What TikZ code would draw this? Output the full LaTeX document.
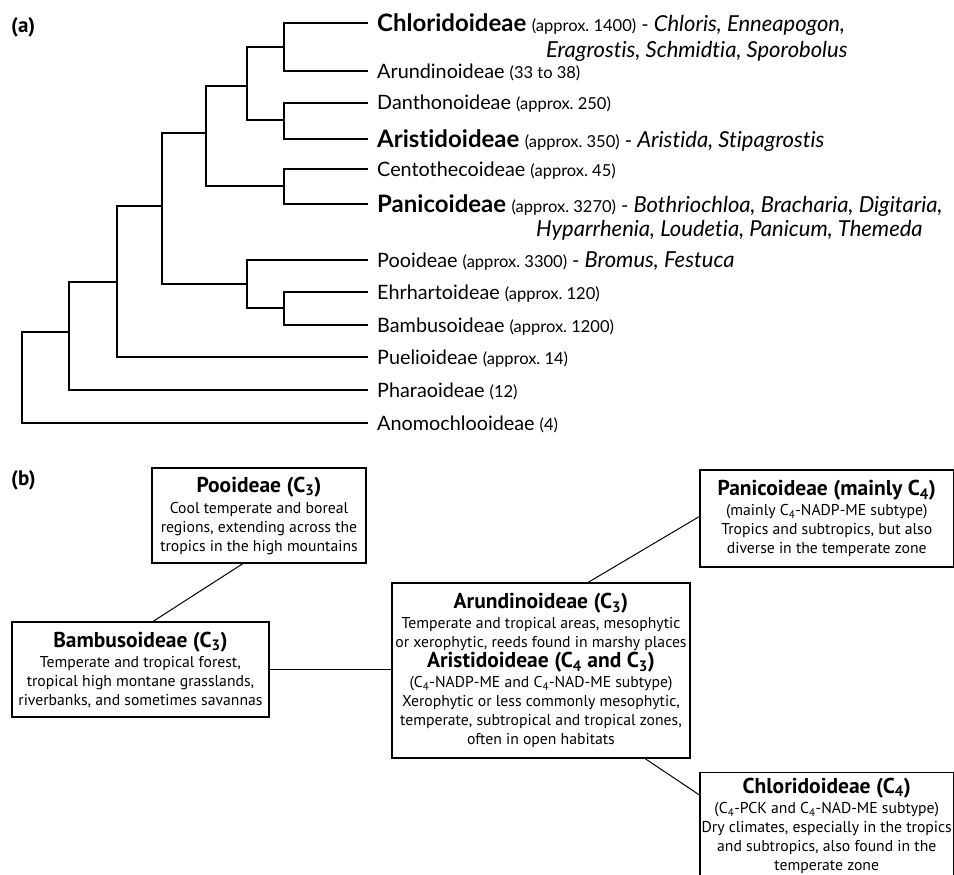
\documentclass[tikz,border=0pt]{standalone}
\usepackage{fontspec}
\setmainfont{PT Sans}
\newfontfamily\treefont[Ligatures=NoCommon]{Lato}
\usetikzlibrary{calc}
\newcommand\myleaf{\treefont\fontsize{19.8}{22}\selectfont}
\newcommand\myboldleaf{\treefont\fontsize{24}{26}\selectfont\bfseries}
\newcommand\mypar{\treefont\fontsize{16.5}{18}\selectfont}
\newcommand\myital{\treefont\fontsize{22}{24}\selectfont\itshape}
\newcommand\mytitle{\fontsize{21.5}{23}\selectfont\bfseries}
\newcommand\mybody{\fontsize{15.7}{19}\selectfont}
\begin{document}
\frenchspacing
\begin{tikzpicture}[x=1pt,y=-1pt,
  tree/.style={line width=1.4pt},
  leaf/.style={inner sep=0pt, anchor=base west, font=\myleaf},
  panel/.style={inner sep=0pt, anchor=base west, font=\fontsize{21}{23}\selectfont\bfseries},
  box/.style={draw, line width=1.1pt, align=center, font=\mybody, inner sep=0pt},
  link/.style={line width=1pt}]
\useasboundingbox (0,0) rectangle (954,875);
\clip (0,0) rectangle (954,875);

% ---------- (a) tree ----------
\node[panel] (pa) at (11,33) {(a)};

\coordinate (eChl) at (368,23);
\coordinate (eAru) at (368,71);
\coordinate (eDan) at (368,103);
\coordinate (eAri) at (368,139);
\coordinate (eCen) at (368,169);
\coordinate (ePan) at (368,204);
\coordinate (ePoo) at (368,260);
\coordinate (eEhr) at (368,292);
\coordinate (eBam) at (368,325);
\coordinate (ePue) at (368,357);
\coordinate (ePha) at (368,390);
\coordinate (eAno) at (368,423);

\coordinate (n1) at (284,47);
\coordinate (n2) at (284,120);
\coordinate (n3) at (247,86);
\coordinate (n4) at (284,186);
\coordinate (n5) at (206,133);
\coordinate (n6) at (284,308);
\coordinate (n7) at (247,284);
\coordinate (n8) at (162,206);
\coordinate (n9) at (117,282);
\coordinate (n10) at (69,332);
\coordinate (root) at (22,377.5);

\draw[tree] (n1) |- (eChl);  \draw[tree] (n1) |- (eAru);
\draw[tree] (n2) |- (eDan);  \draw[tree] (n2) |- (eAri);
\draw[tree] (n3) |- (n1);    \draw[tree] (n3) |- (n2);
\draw[tree] (n4) |- (eCen);  \draw[tree] (n4) |- (ePan);
\draw[tree] (n5) |- (n3);    \draw[tree] (n5) |- (n4);
\draw[tree] (n6) |- (eEhr);  \draw[tree] (n6) |- (eBam);
\draw[tree] (n7) |- (ePoo);  \draw[tree] (n7) |- (n6);
\draw[tree] (n8) |- (n5);    \draw[tree] (n8) |- (n7);
\draw[tree] (n9) |- (n8);    \draw[tree] (n9) |- (ePue);
\draw[tree] (n10) |- (n9);   \draw[tree] (n10) |- (ePha);
\draw[tree] (root) |- (n10); \draw[tree] (root) |- (eAno);

\node[leaf, font=\myboldleaf] (tChl) at (377,31.5) {Chloridoideae};
\node[leaf] (tChlR) at (tChl.base east) {\ {\mypar(approx. 1400)} - {\myital Chloris, Enneapogon,}};
\node[leaf] (tChl2) at (546,57.5) {\myital Eragrostis, Schmidtia, Sporobolus};
\node[leaf] (tAru) at (377,78) {Arundinoideae {\mypar(33 to 38)}};
\node[leaf] (tDan) at (377,110) {Danthonoideae {\mypar(approx. 250)}};
\node[leaf, font=\myboldleaf] (tAri) at (377,147) {Aristidoideae};
\node[leaf] (tAriR) at (tAri.base east) {\ {\mypar(approx. 350)} - {\myital Aristida, Stipagrostis}};
\node[leaf] (tCen) at (377,176) {Centothecoideae {\mypar(approx. 45)}};
\node[leaf, font=\myboldleaf] (tPan) at (377,212) {Panicoideae};
\node[leaf] (tPanR) at (tPan.base east) {\ {\mypar(approx. 3270)} - {\myital Bothriochloa, Bracharia, Digitaria,}};
\node[leaf] (tPan2) at (536,236) {\myital Hyparrhenia, Loudetia, Panicum, Themeda};
\node[leaf] (tPoo) at (377,267) {Pooideae {\mypar(approx. 3300)} - {\myital Bromus, Festuca}};
\node[leaf] (tEhr) at (377,299) {Ehrhartoideae {\mypar(approx. 120)}};
\node[leaf] (tBam) at (377,332) {Bambusoideae {\mypar(approx. 1200)}};
\node[leaf] (tPue) at (377,364) {Puelioideae {\mypar(approx. 14)}};
\node[leaf] (tPha) at (377,397) {Pharaoideae {\mypar(12)}};
\node[leaf] (tAno) at (377,430) {Anomochlooideae {\mypar(4)}};

% ---------- (b) boxes ----------
\node[panel] (pb) at (11,485) {(b)};

\node[box, minimum width=214pt, minimum height=95pt] (bPoo) at (259,515.5)
 {{\mytitle Pooideae (C\textsubscript{3})}\\[2pt]
  Cool temperate and boreal\\
  regions, extending across the\\
  tropics in the high mountains};

\node[box, minimum width=257pt, minimum height=95pt] (bBam) at (140.5,669.5)
 {{\mytitle Bambusoideae (C\textsubscript{3})}\\[1pt]
  Temperate and tropical forest,\\
  tropical high montane grasslands,\\
  riverbanks, and sometimes savannas};

\node[box, minimum width=298pt, minimum height=175pt] (bAru) at (541,670.5)
 {{\mytitle Arundinoideae (C\textsubscript{3})}\\[1pt]
  Temperate and tropical areas, mesophytic\\
  or xerophytic, reeds found in marshy places\\[1pt]
  {\mytitle Aristidoideae (C\textsubscript{4} and C\textsubscript{3})}\\[1pt]
  (C\textsubscript{4}-NADP-ME and C\textsubscript{4}-NAD-ME subtype)\\
  Xerophytic or less commonly mesophytic,\\
  temperate, subtropical and tropical zones,\\
  often in open habitats};

\node[box, minimum width=253.5pt, minimum height=97pt] (bPan) at (826.75,518.5)
 {{\mytitle Panicoideae (mainly C\textsubscript{4})}\\[1pt]
  (mainly C\textsubscript{4}-NADP-ME subtype)\\
  Tropics and subtropics, but also\\
  diverse in the temperate zone};

\node[box, minimum width=253.5pt, minimum height=106pt, anchor=north] (bChl) at (826.75,772)
 {{\mytitle Chloridoideae (C\textsubscript{4})}\\[1pt]
  (C\textsubscript{4}-PCK and C\textsubscript{4}-NAD-ME subtype)\\
  Dry climates, especially in the tropics\\
  and subtropics, also found in the\\
  temperate zone};

\draw[link] ($(bPoo.south)+(-16,0)$) -- ($(bBam.north)+(12.5,0)$);
\draw[link] (bBam.east) -- (bBam.east -| bAru.west);
\draw[link] ($(bAru.north)+(47,0)$) -- ($(bPan.north west)+(0,47)$);
\draw[link] ($(bAru.south)+(104,0)$) -- ($(bChl.north west)+(0,23)$);
\end{tikzpicture}
\end{document}
